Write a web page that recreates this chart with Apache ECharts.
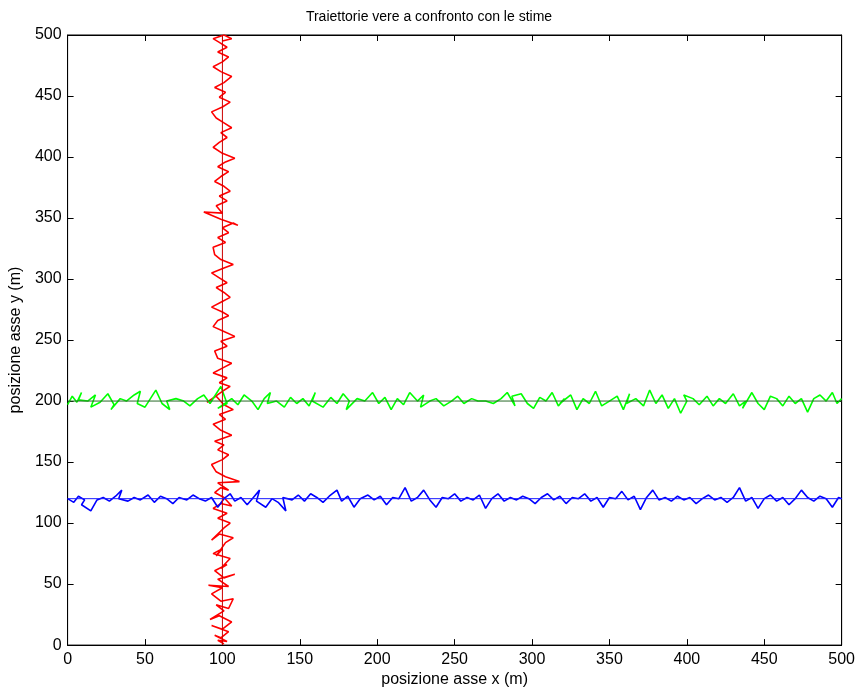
<!DOCTYPE html>
<html><head><meta charset="utf-8">
<script src="https://cdn.jsdelivr.net/npm/echarts@6/dist/echarts.min.js"></script>
<style>html,body{margin:0;padding:0;background:#fff}#c{width:858px;height:693px}</style>
</head><body><div id="c"></div>
<script>
var xTicks=[0,50,100,150,200,250,300,350,400,450,500];
var yTicks=[0,50,100,150,200,250,300,350,400,450,500];
var trueVertical=[[100,0],[100,500]];
var trueH1=[[0,200],[500,200]];
var trueH2=[[0,120],[500,120]];
var redEst=[[101,1],[97,4],[103,3],[95,8],[99,6],[104,11],[93,16],[100,13],[106,19],[98,24],[92,21],[101,28],[96,33],[104,30],[107,38],[99,36],[93,42],[100,47],[91,49],[104,48],[97,54],[108,58],[101,55],[95,61],[103,66],[99,63],[105,71],[94,75],[100,79],[96,73],[102,84],[107,88],[98,91],[93,86],[101,96],[105,100],[97,104],[103,108],[94,112],[99,116],[106,114],[101,121],[95,125],[99,129],[104,127],[97,133],[111,134],[102,138],[96,142],[93,148],[100,152],[104,156],[97,160],[101,164],[95,167],[106,172],[99,176],[94,181],[102,185],[98,189],[107,193],[101,197],[96,204],[90,199],[100,208],[105,212],[98,215],[103,219],[94,223],[100,227],[106,231],[97,235],[95,241],[103,245],[99,249],[108,253],[101,257],[94,261],[97,266],[104,270],[100,273],[93,277],[99,281],[105,285],[101,289],[96,293],[103,297],[98,301],[93,305],[101,309],[107,312],[99,316],[95,320],[94,326],[102,330],[97,334],[104,338],[100,342],[107,346],[110,344],[99,349],[88,355],[100,354],[96,360],[103,364],[98,368],[105,372],[101,376],[95,380],[99,384],[104,388],[97,392],[102,396],[108,399],[100,403],[94,408],[98,412],[103,416],[99,420],[106,424],[101,428],[96,432],[93,437],[100,441],[105,445],[98,449],[102,453],[95,457],[101,461],[106,466],[99,470],[94,474],[100,478],[104,482],[97,486],[103,490],[98,494],[94,497],[101,500],[106,497],[100,495]];
var greenEst=[[0,197],[3,204],[6,199],[9,207],[7,201],[13,200],[18,205],[15,195],[21,199],[26,206],[30,197],[28,193],[34,202],[38,200],[43,205],[47,208],[45,198],[50,195],[54,203],[57,209],[61,198],[66,193],[64,200],[70,202],[75,200],[79,196],[84,202],[88,205],[92,198],[96,206],[99,212],[103,198],[97,194],[106,202],[110,197],[114,205],[119,200],[123,193],[127,202],[131,207],[129,198],[135,200],[140,195],[144,203],[148,198],[152,202],[156,196],[160,207],[158,200],[165,195],[170,203],[174,198],[178,206],[182,200],[180,193],[187,202],[192,200],[197,207],[201,198],[205,203],[209,193],[213,202],[217,197],[221,207],[226,200],[230,205],[228,195],[234,200],[238,202],[243,196],[248,200],[252,204],[256,198],[261,202],[265,200],[270,200],[275,198],[280,202],[284,207],[289,196],[287,204],[293,206],[297,198],[301,194],[305,203],[309,200],[313,207],[317,196],[321,202],[318,198],[325,205],[329,193],[333,202],[337,198],[341,208],[345,196],[350,200],[355,204],[359,193],[363,206],[361,198],[367,202],[372,196],[376,209],[380,198],[384,205],[388,194],[392,202],[396,190],[400,200],[398,205],[404,202],[408,197],[413,204],[417,196],[421,202],[425,198],[430,206],[434,196],[438,200],[436,194],[442,207],[446,198],[450,193],[454,204],[458,202],[462,196],[466,204],[470,198],[474,202],[478,191],[482,202],[486,205],[490,200],[494,207],[497,198],[500,202]];
var blueEst=[[0,120],[4,117],[7,122],[11,119],[9,115],[15,110],[19,119],[23,121],[27,118],[31,122],[35,127],[33,120],[39,118],[43,121],[47,119],[52,123],[56,117],[60,122],[64,120],[68,116],[72,121],[77,119],[81,123],[85,120],[89,118],[93,121],[97,113],[101,120],[105,124],[108,118],[112,121],[116,115],[120,121],[124,127],[122,118],[128,113],[132,120],[136,117],[141,110],[139,121],[145,119],[149,123],[153,118],[157,124],[161,121],[165,117],[169,122],[174,127],[177,118],[181,122],[185,113],[189,120],[194,123],[198,119],[202,122],[206,115],[210,121],[214,120],[218,129],[222,118],[226,121],[230,127],[234,119],[238,113],[242,121],[246,120],[250,124],[254,118],[258,121],[262,119],[266,123],[270,112],[274,120],[278,124],[282,118],[286,121],[290,119],[294,122],[298,120],[302,116],[306,121],[310,124],[314,119],[318,122],[322,116],[326,121],[330,120],[334,124],[338,118],[342,121],[346,113],[350,121],[354,120],[358,126],[362,119],[366,122],[370,111],[374,121],[378,127],[382,119],[386,121],[390,118],[394,122],[398,119],[402,121],[406,116],[410,120],[414,123],[418,119],[422,121],[426,117],[430,121],[434,129],[438,118],[442,121],[446,112],[450,120],[454,123],[458,118],[462,121],[466,115],[470,120],[474,127],[478,121],[482,118],[486,122],[490,120],[494,113],[498,121],[500,120]];

var FONT='Liberation Sans, Arial, sans-serif';
var chart=echarts.init(document.getElementById('c'),null,{renderer:'canvas'});
function ax(pos,showLabel,extra){
  var o={type:'value',min:0,max:500,interval:50,position:pos,
    axisLine:{show:true,onZero:false,lineStyle:{color:'#000',width:1}},
    axisTick:{show:true,inside:true,length:6,lineStyle:{color:'#000'}},
    axisLabel:{show:showLabel,color:'#000',fontFamily:FONT,fontSize:16,margin:6},
    splitLine:{show:false}};
  for(var k in extra)o[k]=extra[k];
  return o;
}
function line(data,color,w,z){
  return {type:'line',data:data,showSymbol:false,symbol:'none',animation:false,
    lineStyle:{color:color,width:w},z:z,silent:true,xAxisIndex:0,yAxisIndex:0};
}
chart.setOption({
  animation:false,
  title:{text:'Traiettorie vere a confronto con le stime',left:'center',top:5,
    textStyle:{fontFamily:FONT,fontSize:14,fontWeight:'normal',color:'#000'}},
  grid:{left:67,right:15,top:35,bottom:47,show:true,borderColor:'#000',borderWidth:1},
  xAxis:[ax('bottom',true,{name:'posizione asse x (m)',nameLocation:'middle',nameGap:25,
      nameTextStyle:{fontFamily:FONT,fontSize:16,color:'#000'}}),
    ax('top',false,{})],
  yAxis:[ax('left',true,{name:'posizione asse y (m)',nameLocation:'middle',nameGap:36,
      nameTextStyle:{fontFamily:FONT,fontSize:16,color:'#000'}}),
    ax('right',false,{})],
  series:[
    line(redEst,'#ff0000',1.6,3),
    line(greenEst,'#00ff00',1.6,3),
    line(blueEst,'#0000ff',1.6,3),
    line(trueVertical,'#cc0000',1,4),
    line(trueH1,'#2a6a2a',1,4),
    line(trueH2,'#1a1aff',1,4)
  ]
});
</script></body></html>
